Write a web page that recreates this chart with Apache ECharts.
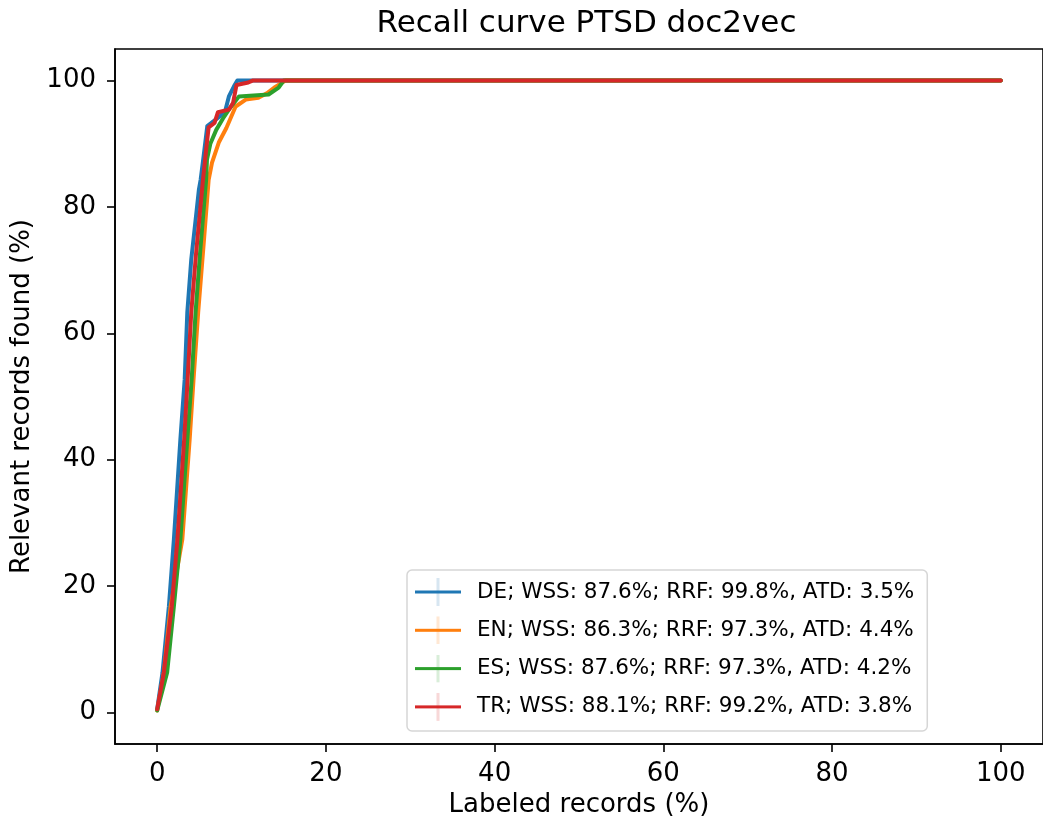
<!DOCTYPE html>
<html>
<head>
<meta charset="utf-8">
<script src="https://cdn.jsdelivr.net/npm/echarts@6/dist/echarts.min.js"></script>
<style>
html,body{margin:0;padding:0;background:#fff;}
#chart{width:1043px;height:828px;}
</style>
</head>
<body>
<div id="chart"></div>
<script>
// ---- data ----
const xTicks = [0, 20, 40, 60, 80, 100];
const yTicks = [0, 20, 40, 60, 80, 100];

const seriesNames = [
  'DE; WSS: 87.6%; RRF: 99.8%, ATD: 3.5%',
  'EN; WSS: 86.3%; RRF: 97.3%, ATD: 4.4%',
  'ES; WSS: 87.6%; RRF: 97.3%, ATD: 4.2%',
  'TR; WSS: 88.1%; RRF: 99.2%, ATD: 3.8%'
];
const seriesColors = ['#1f77b4', '#ff7f0e', '#2ca02c', '#d62728'];

const deX = [0, 0.63, 1.39, 1.98, 2.75, 3.26, 3.57, 4.04, 4.6, 4.95, 5.15, 5.5, 5.94, 6.7, 7.5, 8.1, 8.5, 9.1, 9.5, 100];
const deY = [0.5, 6.3, 16.8, 27.4, 43.2, 52.7, 63.3, 71.7, 78.5, 82.8, 84.3, 88.0, 92.8, 93.6, 94.4, 95.4, 97.5, 99.1, 100, 100];

const enX = [0, 0.8, 1.6, 2.98, 3.85, 4.3, 4.86, 5.5, 6.1, 6.5, 7.3, 8.2, 9.3, 10.5, 12.0, 13.0, 14.0, 15.2, 100];
const enY = [0.3, 6.3, 16.8, 27.4, 43.2, 52.5, 63.3, 74.0, 84.3, 87.0, 90.2, 92.5, 95.9, 97.0, 97.3, 98.0, 99.0, 100, 100];

const esX = [0, 1.18, 1.98, 2.75, 3.57, 4.1, 4.55, 5.1, 5.8, 5.9, 6.3, 7.0, 7.8, 8.5, 9.7, 11.0, 13.2, 14.4, 15.0, 100];
const esY = [0.3, 6.3, 16.8, 27.4, 43.2, 53.0, 63.3, 73.0, 84.3, 87.5, 90.0, 92.2, 94.0, 95.4, 97.5, 97.6, 97.8, 98.9, 100, 100];

const trX = [0, 0.79, 1.73, 2.4, 3.2, 3.6, 4.04, 4.6, 5.43, 5.8, 6.1, 6.8, 7.2, 8.5, 9.0, 9.4, 10.8, 11.3, 100];
const trY = [0.5, 6.3, 16.8, 27.4, 43.2, 52.5, 63.3, 72.5, 84.3, 89.0, 92.6, 93.3, 95.0, 95.4, 96.5, 99.3, 99.7, 100, 100];

const xValues = [deX, enX, esX, trX];
const yValues = [deY, enY, esY, trY];

// ---- chart ----
const font = 'DejaVu Sans';
function legendIcon(color) {
  const svg = '<svg xmlns="http://www.w3.org/2000/svg" width="46" height="28" viewBox="0 0 46 28">' +
    '<rect x="21.5" y="0" width="3" height="28" fill="' + color + '" fill-opacity="0.18"/>' +
    '<rect x="0" y="12.5" width="46" height="3" fill="' + color + '"/></svg>';
  return 'image://data:image/svg+xml;utf8,' + encodeURIComponent(svg);
}

const series = seriesNames.map((name, i) => ({
  name: name,
  type: 'line',
  data: xValues[i].map((x, j) => [x, yValues[i][j]]),
  showSymbol: false,
  symbol: 'none',
  lineStyle: { color: seriesColors[i], width: 4, cap: 'round', join: 'round' },
  itemStyle: { color: seriesColors[i] },
  z: 2 + i,
  animation: false
}));

const chart = echarts.init(document.getElementById('chart'), null, { renderer: 'canvas' });
chart.setOption({
  animation: false,
  backgroundColor: '#ffffff',
  title: {
    text: 'Recall curve PTSD doc2vec',
    left: 581.5,
    textAlign: 'center',
    top: 3,
    textStyle: { fontFamily: font, fontSize: 31, fontWeight: 'normal', color: '#000' }
  },
  grid: {
    left: 115, top: 49, width: 933, height: 695,
    show: true, borderColor: '#000', borderWidth: 1.6, backgroundColor: 'transparent'
  },
  legend: {
    orient: 'vertical',
    left: 407,
    top: 570,
    padding: [8, 13, 10, 8],
    itemGap: 10.3,
    itemWidth: 46,
    itemHeight: 28,
    borderColor: '#d6d6d6',
    borderWidth: 1.5,
    borderRadius: 5,
    backgroundColor: 'rgba(255,255,255,0.8)',
    textStyle: { fontFamily: font, fontSize: 21.5, color: '#000', padding: [0, 0, 0, 11] },
    data: seriesNames.map((n, i) => ({ name: n, icon: legendIcon(seriesColors[i]) }))
  },
  xAxis: {
    type: 'value',
    min: -5, max: 105,
    name: 'Labeled records (%)',
    nameLocation: 'middle',
    nameGap: 48,
    nameTextStyle: { fontFamily: font, fontSize: 26, color: '#000' },
    axisLine: { show: true, onZero: false, lineStyle: { color: '#000', width: 1.6 } },
    axisTick: { show: true, inside: false, length: 8, lineStyle: { color: '#000', width: 1.6 }, customValues: xTicks },
    axisLabel: { fontFamily: font, fontSize: 26, color: '#000', margin: 17, customValues: xTicks },
    splitLine: { show: false }
  },
  yAxis: {
    type: 'value',
    min: -5, max: 105,
    name: 'Relevant records found (%)',
    nameLocation: 'middle',
    nameGap: 71,
    nameTextStyle: { fontFamily: font, fontSize: 26, color: '#000' },
    axisLine: { show: true, onZero: false, lineStyle: { color: '#000', width: 1.6 } },
    axisTick: { show: true, inside: false, length: 8, lineStyle: { color: '#000', width: 1.6 }, customValues: yTicks },
    axisLabel: { fontFamily: font, fontSize: 26, color: '#000', margin: 19, customValues: yTicks },
    splitLine: { show: false }
  },
  series: series
});
</script>
</body>
</html>
